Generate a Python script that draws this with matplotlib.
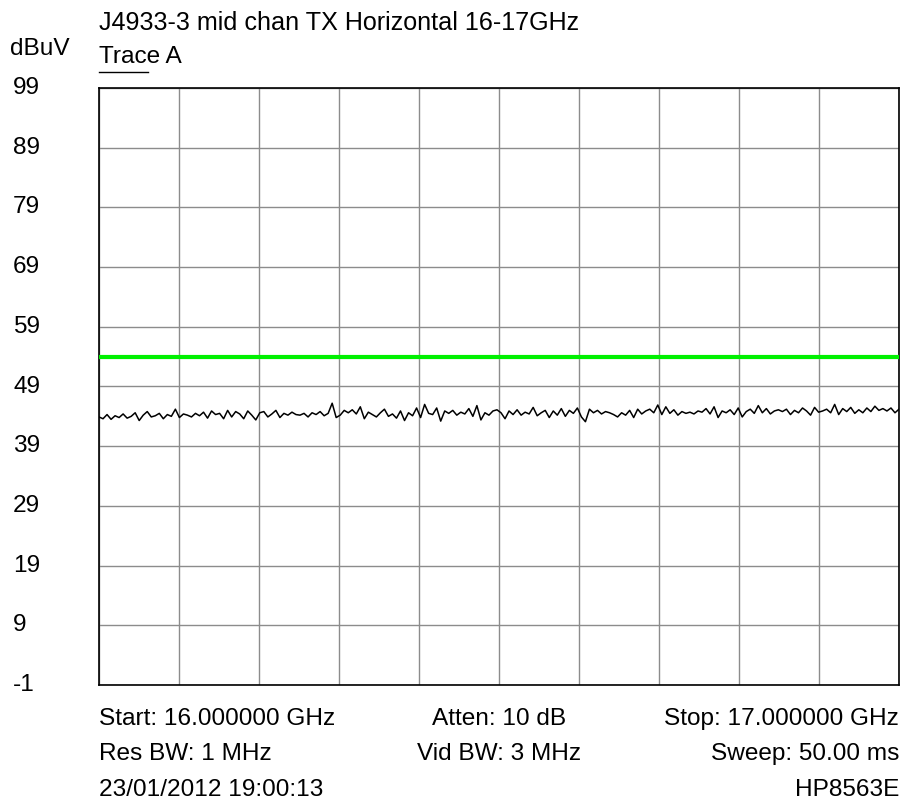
import numpy as np
import matplotlib.pyplot as plt
from matplotlib import transforms

plt.rcParams['font.family'] = ['Liberation Sans', 'DejaVu Sans']

# measured trace (dBuV), 16-17 GHz sweep, in four quarter-span chunks
trace_q1 = [43.9, 43.6, 44.3, 43.5, 44.1, 43.8, 44.4, 43.7, 44.0, 44.6,
            43.3, 44.2, 44.8, 43.9, 44.1, 44.5, 43.6, 44.3, 44.0, 45.2,
            43.8, 44.4, 44.2, 43.9, 44.5, 44.1, 44.7, 43.7, 44.9, 44.3,
            44.5, 43.6, 45.0, 43.9, 44.8, 44.4, 43.6, 44.9, 44.2, 43.4,
            44.6, 44.8, 43.9, 44.4, 45.0, 43.8, 44.5, 44.2, 44.7, 44.3]
trace_q2 = [44.2, 44.5, 43.9, 44.6, 44.3, 44.8, 44.1, 44.5, 46.2, 43.8,
            44.2, 45.0, 44.6, 45.1, 44.4, 45.6, 43.6, 44.7, 44.3, 43.9,
            44.6, 45.2, 44.0, 44.4, 43.7, 44.9, 43.3, 44.6, 44.1, 45.4,
            43.8, 46.0, 44.5, 44.3, 45.4, 43.2, 44.9, 44.5, 45.0, 44.2,
            44.7, 44.4, 45.3, 44.0, 45.8, 43.4, 44.6, 44.2, 44.9, 45.1]
trace_q3 = [44.6, 43.6, 44.9, 44.3, 45.1, 44.2, 44.7, 44.4, 45.5, 44.1,
            44.6, 45.0, 43.8, 44.9, 44.2, 45.3, 44.0, 45.0, 44.5, 45.4,
            43.9, 43.1, 45.2, 44.6, 45.0, 44.4, 44.8, 44.6, 44.3, 43.9,
            44.6, 44.2, 45.0, 43.8, 45.2, 44.4, 44.9, 45.2, 44.6, 45.9,
            44.3, 45.6, 44.5, 45.1, 44.2, 44.8, 44.5, 44.7, 44.4, 44.9]
trace_q4 = [44.7, 45.3, 44.4, 45.6, 43.8, 44.9, 44.6, 45.1, 44.3, 45.4,
            43.9, 44.8, 45.2, 44.5, 45.8, 44.6, 45.3, 44.4, 44.9, 45.1,
            44.8, 45.2, 44.3, 45.0, 44.6, 45.4, 44.9, 44.2, 45.5, 44.7,
            44.9, 45.2, 44.6, 46.0, 44.3, 45.3, 44.8, 45.5, 44.5, 45.1,
            44.6, 45.4, 44.8, 45.7, 45.0, 45.3, 44.9, 45.4, 44.6, 45.2]

limit_dbuv = 54.0
f_start, f_stop = 16.0, 17.0
y_ticks = [99, 89, 79, 69, 59, 49, 39, 29, 19, 9, -1]

trace = np.array(trace_q1 + trace_q2 + trace_q3 + trace_q4)
freq = np.linspace(f_start, f_stop, len(trace))

W, H = 901, 805
fig = plt.figure(figsize=(W / 100, H / 100), dpi=100)
ax = fig.add_axes([99 / W, 1 - 685 / H, 800 / W, 597 / H])

ax.set_xlim(f_start, f_stop)
ax.set_ylim(-1, 99)
ax.set_xticks(np.linspace(f_start, f_stop, 11))
ax.set_yticks(y_ticks)
ax.tick_params(length=0, labelbottom=False, labelleft=False)
ax.grid(True, color='#8c8c8c', lw=1.0)
ax.set_axisbelow(True)
for s in ax.spines.values():
    s.set_color('black')
    s.set_linewidth(1.2)

ax.axhline(limit_dbuv, color='#00f000', lw=3.0, zorder=3)
ax.plot(freq, trace, color='black', lw=1.1, zorder=4)

fs = 17.6
# y labels sit at the left edge of the figure
tr = transforms.blended_transform_factory(fig.transFigure, ax.transData)
for v in y_ticks:
    ax.text(13 / W, v, str(v), transform=tr, ha='left', va='center', fontsize=fs)

def ftext(x, y, s, ha='left', size=fs):
    fig.text(x / W, 1 - y / H, s, ha=ha, va='baseline', fontsize=size)

ftext(99, 30, 'J4933-3 mid chan TX Horizontal 16-17GHz', size=18.1)
ftext(10, 55, 'dBuV')
ftext(99, 63, 'Trace A')
fig.add_artist(plt.Line2D([99 / W, 148 / W], [1 - 72 / H] * 2, color='black', lw=1.0))

ftext(99, 725, 'Start: 16.000000 GHz')
ftext(499, 725, 'Atten: 10 dB', ha='center')
ftext(899, 725, 'Stop: 17.000000 GHz', ha='right')
ftext(99, 760, 'Res BW: 1 MHz')
ftext(499, 760, 'Vid BW: 3 MHz', ha='center')
ftext(899, 760, 'Sweep: 50.00 ms', ha='right')
ftext(99, 796, '23/01/2012 19:00:13')
ftext(899, 796, 'HP8563E', ha='right')

fig.savefig('out.png', dpi=100)
